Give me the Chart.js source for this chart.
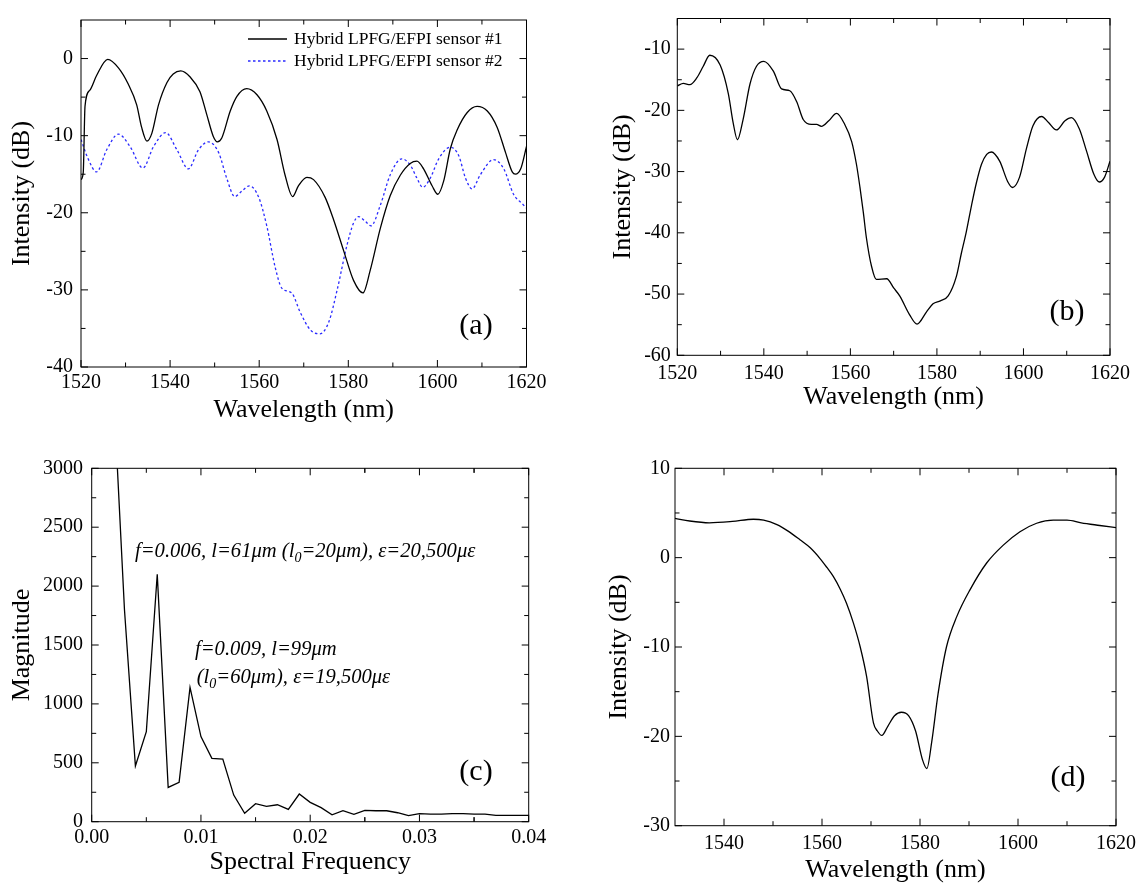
<!DOCTYPE html>
<html>
<head>
<meta charset="utf-8">
<title>LPFG/EFPI spectra</title>
<script src="https://cdn.jsdelivr.net/npm/chart.js@4.4.1/dist/chart.umd.min.js"></script>
<style>
  html, body { margin: 0; padding: 0; background: #fff; }
  body { width: 1146px; height: 884px; position: relative; overflow: hidden; }
  canvas { position: absolute; }
</style>
</head>
<body>
<canvas id="chart-a" width="560" height="430" style="left:0;top:0"></canvas>
<canvas id="chart-b" width="570" height="430" style="left:576px;top:0"></canvas>
<canvas id="chart-c" width="560" height="444" style="left:0;top:440px"></canvas>
<canvas id="chart-d" width="570" height="444" style="left:576px;top:440px"></canvas>
<script>
// (a) two hybrid sensors
const wlA1 = [1520, 1520.5, 1520.9, 1522, 1523.5, 1526, 1528.4, 1530.6, 1532.5, 1533.6, 1534.8, 1535.9, 1537.4, 1539.3, 1540.7, 1542.4, 1544.5, 1546.7, 1548.2, 1549.7, 1550.6, 1551.6, 1553.5, 1555, 1557.2, 1559.5, 1561.7, 1564, 1565.8, 1567.5, 1568.8, 1570.7, 1572.2, 1574.8, 1576.7, 1579, 1581.2, 1583.3, 1584.9, 1587.2, 1589.4, 1591.7, 1593.9, 1595.4, 1596.9, 1598.8, 1600.1, 1601.4, 1602.9, 1604.4, 1606.7, 1608.9, 1611.2, 1613.4, 1615.3, 1616.8, 1617.5, 1618.7, 1620];
const intA1 = [-15.7, -14.8, -6.2, -4.1, -2.2, -0.1, -1.2, -3.3, -6.0, -8.9, -10.7, -9.7, -6.0, -3.1, -2.0, -1.6, -2.4, -4.3, -7.2, -10.1, -10.8, -10.3, -6.8, -4.9, -3.9, -4.7, -6.8, -10.5, -15.1, -17.9, -16.5, -15.4, -15.7, -18.0, -20.9, -25.0, -28.8, -30.4, -27.5, -22.0, -17.8, -15.1, -13.6, -13.3, -14.3, -16.5, -17.6, -15.9, -11.7, -9.3, -7.0, -6.2, -6.8, -8.9, -12.2, -14.7, -15.0, -14.3, -11.4];
const wlA2 = [1520, 1521.6, 1523.5, 1525.8, 1528.4, 1531, 1533.9, 1536.3, 1539, 1541.5, 1544.1, 1546.4, 1548.6, 1550.9, 1552.7, 1554.5, 1556.1, 1557.8, 1559.9, 1561.7, 1563.6, 1565.1, 1567.3, 1569.2, 1571.5, 1573.6, 1575.6, 1577.5, 1579.7, 1581.2, 1582.3, 1583.8, 1585.1, 1587.2, 1589.4, 1592, 1593.9, 1595.4, 1596.7, 1598.4, 1600.3, 1602.9, 1604.8, 1606.3, 1607.8, 1609.6, 1612.6, 1614.9, 1617.1, 1619, 1620];
const intA2 = [-10.5, -13, -14.7, -11.8, -9.8, -11.4, -14.2, -11.4, -9.6, -11.8, -14.3, -11.8, -10.8, -12.2, -15.5, -17.9, -17.2, -16.5, -18, -21.7, -27.1, -29.8, -30.4, -32.9, -35.2, -35.7, -34.2, -30, -24.2, -21.3, -20.5, -21.1, -21.7, -19, -15.1, -13, -13.8, -15.5, -16.7, -15.5, -13, -11.5, -12.6, -15.5, -16.9, -15.1, -13.1, -14.3, -17.6, -18.8, -19.4];
const labelsA = ["Hybrid LPFG/EFPI sensor #1", "Hybrid LPFG/EFPI sensor #2"];
const xTicksA = [1520, 1540, 1560, 1580, 1600, 1620];
const yTicksA = [-40, -30, -20, -10, 0];

// (b)
const wlB = [1520, 1521.4, 1522.9, 1524.5, 1526, 1527.5, 1529.9, 1531.8, 1532.9, 1533.9, 1535.2, 1536.8, 1538.3, 1540, 1542.2, 1544.1, 1546, 1547.6, 1549.1, 1551, 1552.2, 1553.3, 1555, 1556.8, 1558.7, 1560.3, 1561.4, 1562.2, 1563, 1563.7, 1564.9, 1566, 1568.4, 1570, 1571.4, 1573.7, 1575.4, 1577.6, 1579.1, 1580.8, 1582.6, 1584.5, 1585.6, 1586.8, 1588, 1589.1, 1590.3, 1591.5, 1592.6, 1594.5, 1596.4, 1597.5, 1599.1, 1600.7, 1602.2, 1604.2, 1605.8, 1607.6, 1609.6, 1611.1, 1612.9, 1614.6, 1616.25, 1617.5, 1618.75, 1620];
const intB = [-16, -15.6, -15.8, -14.7, -12.8, -11, -12.6, -17.3, -22, -24.8, -21.5, -15.7, -12.8, -12, -13.6, -16.5, -16.8, -18.6, -21.5, -22.3, -22.3, -22.6, -21.7, -20.5, -22.3, -25.1, -28.8, -32.5, -36.7, -40.8, -45.5, -47.6, -47.5, -49, -50.3, -53.4, -54.9, -52.9, -51.6, -51.1, -50.3, -47.1, -43.5, -39.8, -35.5, -31.9, -28.8, -27.2, -26.8, -28.3, -31.7, -32.6, -30.9, -26.2, -22.5, -21, -22, -23.2, -21.7, -21.2, -23, -26.7, -30.4, -31.7, -30.9, -28.3];
const xTicksB = [1520, 1540, 1560, 1580, 1600, 1620];
const yTicksB = [-60, -50, -40, -30, -20, -10];

// (c) FFT magnitude
const freqC = [0.002, 0.003, 0.004, 0.005, 0.006, 0.007, 0.008, 0.009, 0.010, 0.011, 0.012, 0.013, 0.014, 0.015, 0.016, 0.017, 0.018, 0.019, 0.020, 0.021, 0.022, 0.023, 0.024, 0.025, 0.026, 0.027, 0.028, 0.029, 0.030, 0.031, 0.032, 0.033, 0.034, 0.035, 0.036, 0.037, 0.038, 0.039, 0.040];
const magC = [3650, 1800, 473, 764, 2100, 291, 334, 1140, 722, 538, 532, 226, 71, 153, 130, 144, 105, 235, 164, 119, 59, 93, 62, 96, 93, 93, 76, 51, 68, 65, 65, 68, 68, 65, 65, 54, 54, 54, 54];
const xTicksC = [0, 0.01, 0.02, 0.03, 0.04];
const yTicksC = [0, 500, 1000, 1500, 2000, 2500, 3000];

// (d)
const wlD = [1530, 1533, 1537, 1541.7, 1546, 1548.1, 1550.8, 1553, 1555.5, 1557.6, 1559.6, 1561, 1562.3, 1563.7, 1565, 1566.4, 1567.8, 1569.1, 1570.5, 1571.3, 1572.2, 1573.4, 1574.8, 1576.2, 1577.7, 1579.1, 1580.5, 1581.4, 1582.4, 1583.7, 1585.4, 1587.5, 1590.2, 1593.6, 1597, 1600.4, 1603.8, 1607.2, 1610, 1612.9, 1616.7, 1620];
const intD = [4.4, 4.1, 3.9, 4.05, 4.3, 4.2, 3.7, 3.0, 2.0, 1.1, -0.1, -1.1, -2.1, -3.5, -5.1, -7.3, -10, -13.3, -18.5, -19.4, -19.9, -18.9, -17.7, -17.3, -17.7, -19.4, -22.6, -23.6, -20.6, -15.2, -10, -6.6, -3.6, -0.6, 1.4, 2.9, 3.85, 4.2, 4.2, 3.9, 3.6, 3.35];
const xTicksD = [1540, 1560, 1580, 1600, 1620];
const yTicksD = [-30, -20, -10, 0, 10];

const FONT = "'Liberation Serif', 'Times New Roman', serif";

function pairs(xs, ys) {
    return xs.map((x, i) => ({ x: x, y: ys[i] }));
}

function minorsOf(ticks, min, max) {
    const step = ticks[1] - ticks[0];
    const out = [];
    ticks.forEach(v => {
        [v - step / 2, v + step / 2].forEach(m => {
            if (m > min + 1e-9 && m < max - 1e-9 && out.indexOf(m) < 0) out.push(m);
        });
    });
    return out;
}

// frame, inward ticks on all sides, panel tag
const frameTicks = {
    id: "frameTicks",
    afterDraw(chart, args, opts) {
        const ctx = chart.ctx;
        const a = chart.chartArea;
        const sx = chart.scales.x, sy = chart.scales.y;
        const xMaj = sx.ticks.map(t => t.value), yMaj = sy.ticks.map(t => t.value);
        ctx.save();
        ctx.strokeStyle = "#000";
        ctx.lineWidth = 1;
        ctx.strokeRect(a.left, a.top, a.right - a.left, a.bottom - a.top);
        ctx.beginPath();
        const xt = (v, len) => {
            const p = sx.getPixelForValue(v);
            ctx.moveTo(p, a.bottom); ctx.lineTo(p, a.bottom - len);
            ctx.moveTo(p, a.top); ctx.lineTo(p, a.top + len);
        };
        const yt = (v, len) => {
            const p = sy.getPixelForValue(v);
            ctx.moveTo(a.left, p); ctx.lineTo(a.left + len, p);
            ctx.moveTo(a.right, p); ctx.lineTo(a.right - len, p);
        };
        xMaj.forEach(v => xt(v, 7));
        minorsOf(xMaj, sx.min, sx.max).forEach(v => xt(v, 4.5));
        yMaj.forEach(v => yt(v, 7));
        minorsOf(yMaj, sy.min, sy.max).forEach(v => yt(v, 4.5));
        ctx.stroke();
        ctx.fillStyle = "#000";
        ctx.font = "30px " + FONT;
        ctx.textAlign = "center";
        ctx.textBaseline = "middle";
        ctx.fillText(opts.tag, a.right - opts.tagDx, a.bottom - opts.tagDy);
        ctx.restore();
    }
};

const sideLegend = {
    id: "sideLegend",
    afterDraw(chart, args, opts) {
        const ctx = chart.ctx;
        ctx.save();
        chart.data.datasets.forEach((ds, i) => {
            const yy = opts.y + i * opts.gap;
            ctx.strokeStyle = ds.borderColor;
            ctx.lineWidth = ds.borderWidth;
            ctx.setLineDash(ds.borderDash || []);
            ctx.beginPath();
            ctx.moveTo(opts.x, yy);
            ctx.lineTo(opts.x + opts.len, yy);
            ctx.stroke();
            ctx.setLineDash([]);
            ctx.fillStyle = "#000";
            ctx.font = "17.5px " + FONT;
            ctx.textBaseline = "middle";
            ctx.fillText(ds.label, opts.x + opts.len + 7, yy);
        });
        ctx.restore();
    }
};

// italic notes with subscripts for panel (c)
const notes = {
    id: "notes",
    afterDraw(chart, args, opts) {
        const ctx = chart.ctx;
        ctx.save();
        ctx.fillStyle = "#000";
        ctx.textBaseline = "alphabetic";
        opts.lines.forEach(line => {
            let x = line.x;
            line.parts.forEach(part => {
                const sub = part[1];
                ctx.font = "italic " + (sub ? 14 : 20.6) + "px " + FONT;
                ctx.fillText(part[0], x, line.y + (sub ? 5 : 0));
                x += ctx.measureText(part[0]).width;
            });
        });
        ctx.restore();
    }
};

function buildChart(id, p) {
    return new Chart(document.getElementById(id), {
        type: "line",
        data: { datasets: p.datasets },
        plugins: p.plugins,
        options: {
            responsive: false,
            animation: false,
            events: [],
            layout: { padding: p.pad },
            elements: { point: { radius: 0 } },
            plugins: {
                legend: { display: false },
                tooltip: { enabled: false },
                frameTicks: p.frame,
                sideLegend: p.legend || {},
                notes: p.notes || { lines: [] }
            },
            scales: {
                x: {
                    type: "linear",
                    min: p.xMin, max: p.xMax,
                    grid: { display: false, drawTicks: false },
                    border: { display: false },
                    afterBuildTicks: s => { s.ticks = p.xTicks.map(v => ({ value: v })); },
                    afterFit: s => { s.height = p.xH; },
                    ticks: {
                        autoSkip: false, maxRotation: 0, padding: p.xTickPad, color: "#000",
                        font: { family: FONT, size: 20 },
                        callback: p.xFmt || (v => String(v))
                    },
                    title: {
                        display: true, text: p.xTitle, color: "#000",
                        font: { family: FONT, size: 26, lineHeight: p.xTitleLH || 1.2 },
                        padding: { top: 0, bottom: p.xTitlePad }
                    }
                },
                y: {
                    type: "linear",
                    min: p.yMin, max: p.yMax,
                    grid: { display: false, drawTicks: false },
                    border: { display: false },
                    afterBuildTicks: s => { s.ticks = p.yTicks.map(v => ({ value: v })); },
                    afterFit: s => { s.width = p.yW; },
                    ticks: {
                        padding: p.yTickPad, color: "#000",
                        font: { family: FONT, size: 20 },
                        callback: v => String(v)
                    },
                    title: {
                        display: true, text: p.yTitle, color: "#000",
                        font: { family: FONT, size: 26 },
                        padding: { top: p.yTitlePad, bottom: 0 }
                    }
                }
            }
        }
    });
}

const solid = { borderColor: "#000", borderWidth: 1.3, cubicInterpolationMode: "monotone", fill: false };

buildChart("chart-a", {
    datasets: [
        Object.assign({ label: labelsA[0], data: pairs(wlA1, intA1) }, solid),
        { label: labelsA[1], data: pairs(wlA2, intA2), borderColor: "#2a2aff", borderWidth: 1.3, borderDash: [2.5, 2.5], cubicInterpolationMode: "monotone", fill: false }
    ],
    plugins: [frameTicks, sideLegend],
    pad: { left: 0, top: 5, right: 33.5, bottom: 0 },
    xMin: 1520, xMax: 1620, xTicks: xTicksA, xH: 63, xTickPad: 4, xTitle: "Wavelength (nm)", xTitlePad: 4.4,
    yMin: -40, yMax: 5, yTicks: yTicksA, yW: 81, yTickPad: 8, yTitle: "Intensity (dB)", yTitlePad: 6.4,
    frame: { tag: "(a)", tagDx: 50.5, tagDy: 41 },
    legend: { x: 248, y: 39, gap: 22, len: 39 }
});

buildChart("chart-b", {
    datasets: [Object.assign({ label: "b", data: pairs(wlB, intB) }, solid)],
    plugins: [frameTicks],
    pad: { left: 0, top: 5, right: 36, bottom: 0 },
    xMin: 1520, xMax: 1620, xTicks: xTicksB, xH: 74.7, xTickPad: 6, xTitle: "Wavelength (nm)", xTitlePad: 17,
    yMin: -60, yMax: -5, yTicks: yTicksB, yW: 101.3, yTickPad: 6.5, yTitle: "Intensity (dB)", yTitlePad: 31.4,
    frame: { tag: "(b)", tagDx: 43, tagDy: 43 }
});

buildChart("chart-c", {
    datasets: [{ label: "c", data: pairs(freqC, magC), borderColor: "#000", borderWidth: 1.3, tension: 0, fill: false }],
    plugins: [frameTicks, notes],
    pad: { left: 0, top: 28.3, right: 31.3, bottom: 0 },
    xMin: 0, xMax: 0.04, xTicks: xTicksC, xH: 62.3, xTickPad: 4.3, xTitle: "Spectral Frequency", xTitlePad: 6.4,
    xFmt: v => Number(v).toFixed(2),
    yMin: 0, yMax: 3000, yTicks: yTicksC, yW: 91.7, yTickPad: 8.7, yTitle: "Magnitude", yTitlePad: 6.4,
    frame: { tag: "(c)", tagDx: 52.7, tagDy: 50 },
    notes: {
        lines: [
            { x: 135, y: 117, parts: [["f=0.006, l=61\u03bcm (l"], ["0", true], ["=20\u03bcm), \u03b5=20,500\u03bc\u03b5"]] },
            { x: 195, y: 215, parts: [["f=0.009, l=99\u03bcm"]] },
            { x: 196.7, y: 243.3, parts: [["(l"], ["0", true], ["=60\u03bcm), \u03b5=19,500\u03bc\u03b5"]] }
        ]
    }
});

buildChart("chart-d", {
    datasets: [Object.assign({ label: "d", data: pairs(wlD, intD) }, solid)],
    plugins: [frameTicks],
    pad: { left: 0, top: 28.3, right: 30, bottom: 0 },
    xMin: 1530, xMax: 1620, xTicks: xTicksD, xH: 58.3, xTickPad: 6, xTitle: "Wavelength (nm)", xTitlePad: 1, xTitleLH: 1.0,
    yMin: -30, yMax: 10, yTicks: yTicksD, yW: 99, yTickPad: 5, yTitle: "Intensity (dB)", yTitlePad: 27.4,
    frame: { tag: "(d)", tagDx: 48, tagDy: 48 }
});
</script>
</body>
</html>
